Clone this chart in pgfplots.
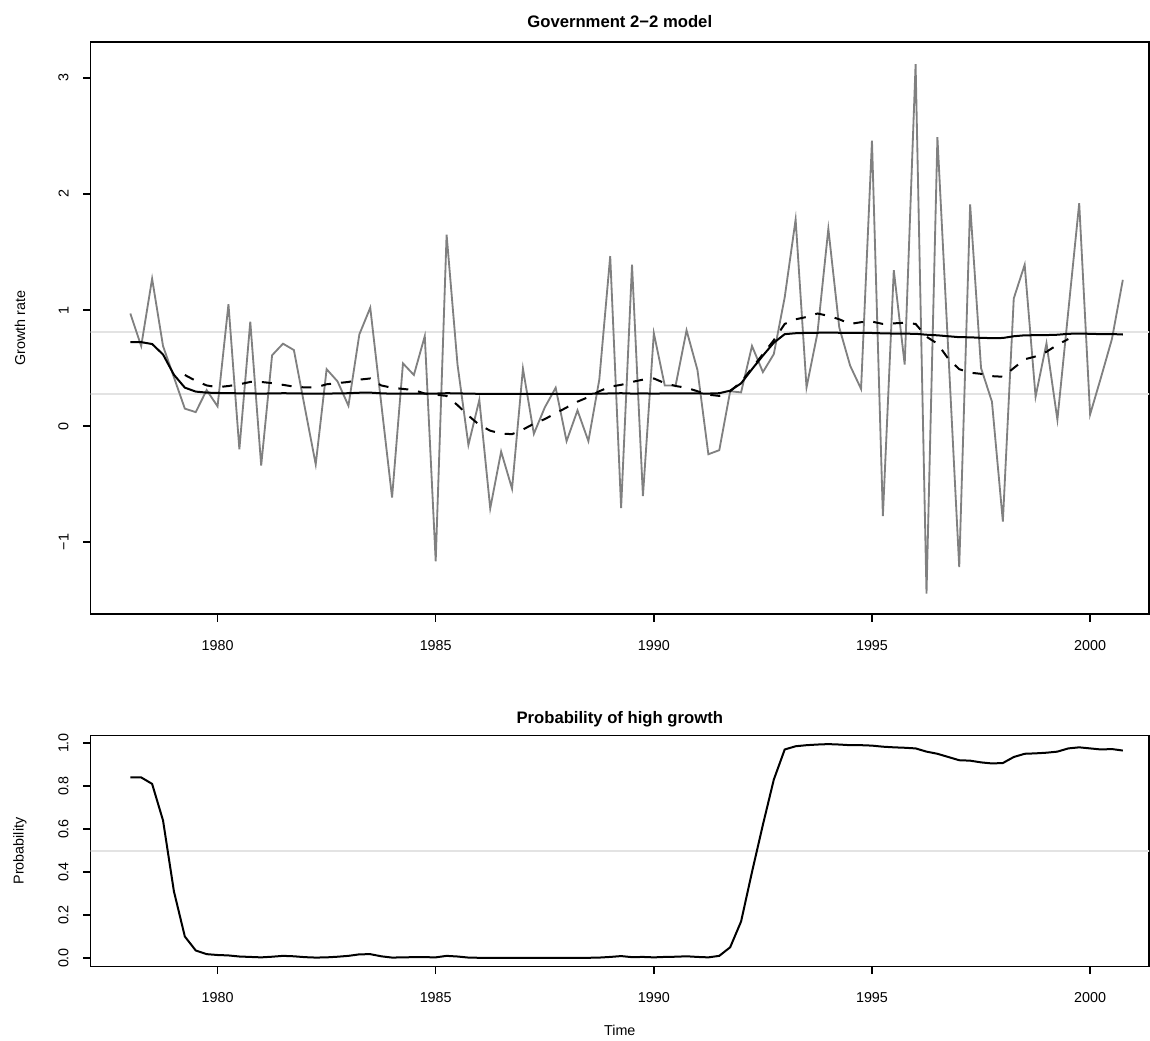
\documentclass[border=0pt]{standalone}
\usepackage{fontspec}
\setmainfont{Liberation Sans}
\setsansfont{Liberation Sans}
\usepackage{pgfplots}
\usepackage{pgfplotstable}
\pgfplotsset{compat=1.18}

\definecolor{series}{HTML}{808080}
\definecolor{refl}{HTML}{E3E3E3}

\pgfplotstableread{
t g s p
1978.00 0.97 0.723 0.84
1978.25 0.69 0.723 0.84
1978.50 1.27 0.707 0.81
1978.75 0.69 0.617 0.64
1979.00 0.42 0.442 0.31
1979.25 0.15 0.331 0.10
1979.50 0.12 0.297 0.035
1979.75 0.31 0.288 0.018
1980.00 0.17 0.285 0.014
1980.25 1.05 0.284 0.012
1980.50 -0.20 0.282 0.007
1980.75 0.90 0.281 0.005
1981.00 -0.34 0.280 0.003
1981.25 0.61 0.281 0.006
1981.50 0.71 0.283 0.010
1981.75 0.655 0.282 0.008
1982.00 0.16 0.280 0.004
1982.25 -0.33 0.279 0.002
1982.50 0.49 0.280 0.003
1982.75 0.385 0.281 0.006
1983.00 0.175 0.283 0.010
1983.25 0.79 0.287 0.017
1983.50 1.02 0.288 0.018
1983.75 0.20 0.282 0.008
1984.00 -0.616 0.279 0.002
1984.25 0.54 0.280 0.003
1984.50 0.44 0.280 0.004
1984.75 0.775 0.280 0.004
1985.00 -1.165 0.280 0.003
1985.25 1.65 0.283 0.010
1985.50 0.53 0.282 0.007
1985.75 -0.163 0.279 0.002
1986.00 0.225 0.278 0.001
1986.25 -0.71 0.278 0.001
1986.50 -0.22 0.278 0.001
1986.75 -0.54 0.278 0.001
1987.00 0.495 0.278 0.001
1987.25 -0.067 0.278 0.001
1987.50 0.16 0.278 0.001
1987.75 0.33 0.278 0.001
1988.00 -0.13 0.278 0.001
1988.25 0.135 0.278 0.001
1988.50 -0.13 0.278 0.001
1988.75 0.40 0.279 0.002
1989.00 1.465 0.281 0.005
1989.25 -0.706 0.283 0.009
1989.50 1.39 0.280 0.004
1989.75 -0.603 0.281 0.005
1990.00 0.80 0.280 0.003
1990.25 0.35 0.281 0.005
1990.50 0.35 0.281 0.006
1990.75 0.825 0.282 0.008
1991.00 0.483 0.281 0.005
1991.25 -0.243 0.280 0.003
1991.50 -0.208 0.283 0.010
1991.75 0.30 0.305 0.05
1992.00 0.29 0.368 0.17
1992.25 0.69 0.490 0.40
1992.50 0.465 0.607 0.62
1992.75 0.62 0.718 0.83
1993.00 1.11 0.792 0.97
1993.25 1.78 0.800 0.985
1993.50 0.333 0.803 0.99
1993.75 0.80 0.804 0.993
1994.00 1.70 0.805 0.995
1994.25 0.85 0.804 0.993
1994.50 0.52 0.803 0.99
1994.75 0.32 0.803 0.99
1995.00 2.46 0.802 0.988
1995.25 -0.776 0.799 0.983
1995.50 1.344 0.797 0.98
1995.75 0.53 0.796 0.978
1996.00 3.12 0.795 0.975
1996.25 -1.445 0.787 0.96
1996.50 2.49 0.782 0.95
1996.75 0.64 0.774 0.935
1997.00 -1.216 0.766 0.92
1997.25 1.91 0.765 0.918
1997.50 0.50 0.760 0.91
1997.75 0.21 0.758 0.905
1998.00 -0.823 0.759 0.907
1998.25 1.10 0.774 0.935
1998.50 1.39 0.782 0.95
1998.75 0.253 0.783 0.952
1999.00 0.713 0.784 0.955
1999.25 0.055 0.787 0.96
1999.50 0.99 0.795 0.975
1999.75 1.92 0.797 0.98
2000.00 0.10 0.795 0.975
2000.25 0.42 0.792 0.97
2000.50 0.75 0.793 0.972
2000.75 1.26 0.789 0.965
}\main

\pgfplotstableread{
t d
1979.25 0.44
1979.50 0.39
1979.75 0.35
1980.00 0.335
1980.25 0.345
1980.50 0.36
1980.75 0.38
1981.00 0.38
1981.25 0.37
1981.50 0.355
1981.75 0.34
1982.00 0.333
1982.25 0.333
1982.50 0.36
1982.75 0.37
1983.00 0.38
1983.25 0.40
1983.50 0.41
1983.75 0.35
1984.00 0.33
1984.25 0.32
1984.50 0.31
1984.75 0.28
1985.00 0.27
1985.25 0.26
1985.50 0.18
1985.75 0.09
1986.00 0.01
1986.25 -0.04
1986.50 -0.065
1986.75 -0.07
1987.00 -0.03
1987.25 0.02
1987.50 0.06
1987.75 0.11
1988.00 0.16
1988.25 0.21
1988.50 0.25
1988.75 0.30
1989.00 0.34
1989.25 0.355
1989.50 0.38
1989.75 0.40
1990.00 0.41
1990.25 0.37
1990.50 0.345
1990.75 0.33
1991.00 0.30
1991.25 0.27
1991.50 0.26
1991.75 0.30
1992.00 0.38
1992.25 0.50
1992.50 0.62
1992.75 0.74
1993.00 0.88
1993.25 0.92
1993.50 0.94
1993.75 0.97
1994.00 0.95
1994.25 0.92
1994.50 0.88
1994.75 0.895
1995.00 0.90
1995.25 0.88
1995.50 0.885
1995.75 0.89
1996.00 0.88
1996.25 0.77
1996.50 0.71
1996.75 0.58
1997.00 0.49
1997.25 0.46
1997.50 0.45
1997.75 0.43
1998.00 0.425
1998.25 0.50
1998.50 0.575
1998.75 0.60
1999.00 0.64
1999.25 0.70
1999.50 0.75
}\dashed

\pgfplotsset{rstyle/.style={
  scale only axis, width=635.04bp,
  xmin=1977.09, xmax=2001.35,
  no markers,
  axis line style={line width=0.9bp, black},
  tick align=outside, major tick length=4.5bp,
  every tick/.style={line width=0.9bp, black},
  xtick={1980,1985,1990,1995,2000},
  xticklabels={1980,1985,1990,1995,2000},
  xtick pos=bottom, ytick pos=left,
  xticklabel style={font=\fontsize{8.6bp}{10bp}\selectfont, inner sep=0pt},
  xticklabel shift=11bp,
  yticklabel style={font=\fontsize{8.6bp}{10bp}\selectfont, rotate=90, anchor=south, inner sep=0pt},
  yticklabel shift=8.5bp,
}}

\begin{document}
\begin{tikzpicture}
\path[use as bounding box] (-54.36bp,25.2bp) rectangle (635.64bp,-599.4bp);
\begin{axis}[rstyle, at={(0,0)}, anchor=north west, height=343.2bp,
  ymin=-1.62, ymax=3.31, ytick={-1,0,1,2,3}, yticklabels={−1,0,1,2,3}]
\addplot[refl, line width=1.2bp] coordinates {(1977,0.808) (2002,0.808)};
\addplot[refl, line width=1.2bp] coordinates {(1977,0.278) (2002,0.278)};
\addplot[series, line width=1.1bp] table[x=t,y=g]{\main};
\addplot[black, line width=1.2bp] table[x=t,y=s]{\main};
\addplot[black, line width=1.2bp, dash pattern=on 6bp off 6bp] table[x=t,y=d]{\dashed};
\end{axis}
\begin{axis}[rstyle, at={(0,-416.1bp)}, anchor=north west, height=138.66bp,
  ymin=-0.04, ymax=1.035, ytick={0,0.2,0.4,0.6,0.8,1}, yticklabels={0.0,0.2,0.4,0.6,0.8,1.0}]
\addplot[refl, line width=1.2bp] coordinates {(1977,0.5) (2002,0.5)};
\addplot[black, line width=1.2bp] table[x=t,y=p]{\main};
\end{axis}
\node[font=\bfseries\fontsize{10bp}{12bp}\selectfont, anchor=base] at (317.5bp,8.7bp) {Government 2−2 model};
\node[font=\bfseries\fontsize{10bp}{12bp}\selectfont, anchor=base] at (317.5bp,-408.9bp) {Probability of high growth};
\node[font=\fontsize{8.6bp}{10bp}\selectfont, rotate=90] at (-42.36bp,-171.6bp) {Growth rate};
\node[font=\fontsize{8.6bp}{10bp}\selectfont, rotate=90] at (-42.36bp,-485.4bp) {Probability};
\node[font=\fontsize{8.6bp}{10bp}\selectfont, anchor=base] at (317.5bp,-595.8bp) {Time};
\end{tikzpicture}
\end{document}
